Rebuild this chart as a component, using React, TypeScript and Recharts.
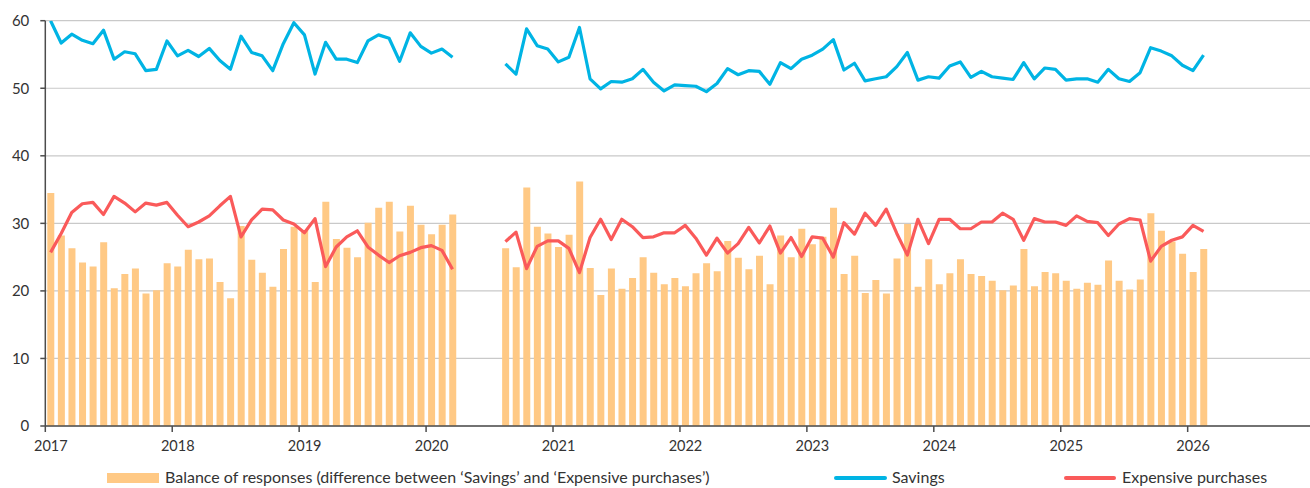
import React from "react";
import { ComposedChart, Bar, Line, XAxis, YAxis, CartesianGrid, Legend } from "recharts";

// Monthly survey months, Jan 2017 – Feb 2026 (Apr–Jul 2020 missing)
const startYear = 2017;
const monthCount = 110;

const balance: (number | null)[] = [
  // 2017
  34.5, 28.2, 26.3, 24.2, 23.6, 27.2, 20.4, 22.5, 23.3, 19.6, 20.1, 24.1,
  // 2018
  23.6, 26.1, 24.7, 24.8, 21.3, 18.9, 29.6, 24.6, 22.7, 20.6, 26.2, 29.5,
  // 2019
  29.0, 21.3, 33.2, 27.7, 26.4, 25.0, 30.1, 32.3, 33.2, 28.8, 32.6, 29.8,
  // 2020
  28.4, 29.8, 31.3, null, null, null, null, 26.3, 23.5, 35.3, 29.5, 28.5,
  // 2021
  26.5, 28.3, 36.2, 23.4, 19.4, 23.3, 20.3, 21.9, 25.0, 22.7, 21.0, 21.9,
  // 2022
  20.7, 22.6, 24.1, 22.9, 27.4, 24.9, 23.2, 25.2, 21.0, 28.2, 25.0, 29.2,
  // 2023
  26.9, 28.0, 32.3, 22.5, 25.2, 19.7, 21.6, 19.6, 24.8, 29.9, 20.6, 24.7,
  // 2024
  21.0, 22.6, 24.7, 22.5, 22.2, 21.5, 20.1, 20.8, 26.2, 20.7, 22.8, 22.6,
  // 2025
  21.5, 20.3, 21.2, 20.9, 24.5, 21.5, 20.2, 21.7, 31.5, 28.9, 27.3, 25.5,
  // 2026
  22.8, 26.2,
];

const savings: (number | null)[] = [
  60.0, 56.7, 58.0, 57.1, 56.6, 58.6, 54.3, 55.4, 55.1, 52.6, 52.8, 57.0,
  54.8, 55.6, 54.7, 55.9, 54.1, 52.8, 57.7, 55.3, 54.8, 52.6, 56.6, 59.7,
  57.9, 52.1, 56.8, 54.3, 54.3, 53.8, 57.0, 57.9, 57.4, 54.0, 58.2, 56.2,
  55.2, 55.8, 54.6, null, null, null, null, 53.6, 52.1, 58.8, 56.3, 55.8,
  53.9, 54.6, 59.0, 51.4, 49.9, 51.0, 50.9, 51.4, 52.8, 50.9, 49.6, 50.5,
  50.4, 50.3, 49.5, 50.7, 52.9, 52.0, 52.6, 52.5, 50.6, 53.8, 52.9, 54.3,
  54.9, 55.8, 57.2, 52.7, 53.7, 51.1, 51.4, 51.7, 53.2, 55.3, 51.2, 51.7,
  51.5, 53.3, 53.9, 51.6, 52.5, 51.7, 51.5, 51.3, 53.8, 51.4, 53.0, 52.8,
  51.2, 51.4, 51.4, 50.9, 52.8, 51.4, 51.0, 52.3, 56.0, 55.5, 54.8, 53.4,
  52.6, 54.9,
];

const expensive: (number | null)[] = [
  25.7, 28.5, 31.6, 32.9, 33.1, 31.3, 34.0, 33.0, 31.7, 33.0, 32.7, 33.1,
  31.2, 29.5, 30.2, 31.1, 32.6, 34.0, 28.0, 30.5, 32.1, 32.0, 30.5, 29.9,
  28.6, 30.7, 23.6, 26.5, 28.0, 28.9, 26.5, 25.3, 24.2, 25.2, 25.7, 26.4,
  26.7, 26.0, 23.2, null, null, null, null, 27.3, 28.7, 23.3, 26.6, 27.4,
  27.4, 26.3, 22.7, 27.9, 30.6, 27.6, 30.6, 29.5, 27.9, 28.0, 28.6, 28.6,
  29.7, 27.8, 25.3, 27.8, 25.6, 27.0, 29.4, 27.1, 29.6, 25.6, 27.9, 25.1,
  28.0, 27.8, 25.0, 30.1, 28.4, 31.5, 29.7, 32.1, 28.5, 25.3, 30.6, 27.0,
  30.6, 30.6, 29.2, 29.2, 30.2, 30.2, 31.5, 30.6, 27.5, 30.7, 30.2, 30.2,
  29.7, 31.1, 30.3, 30.1, 28.2, 29.9, 30.7, 30.5, 24.4, 26.6, 27.5, 28.0,
  29.7, 28.8,
];

const yearTicks = [2017, 2018, 2019, 2020, 2021, 2022, 2023, 2024, 2025, 2026];
const valueTicks = [0, 10, 20, 30, 40, 50, 60];

const seriesNames = {
  balance: "Balance of responses (difference between \u2018Savings\u2019 and \u2018Expensive purchases\u2019)",
  savings: "Savings",
  expensive: "Expensive purchases",
};

const COLORS = {
  bar: "#ffc985",
  savings: "#00b4e4",
  expensive: "#fa5a5a",
  grid: "#c9c9c9",
  axis: "#4d4d4d",
  text: "#333333",
};

const FONT = "Lato, 'Open Sans', sans-serif";

// month midpoint as fractional year
const data = Array.from({ length: monthCount }, (_, i) => ({
  t: startYear + Math.floor(i / 12) + ((i % 12) + 0.5) / 12,
  balance: balance[i],
  savings: savings[i],
  expensive: expensive[i],
}));

const XTick = (props: any) => {
  const { x, y, payload } = props;
  return (
    <text x={x + 5.5} y={y} dy="0.71em" textAnchor="middle" fill={COLORS.text} fontSize={14.5} fontFamily={FONT}>
      {payload.value}
    </text>
  );
};

const YTick = (props: any) => {
  const { x, y, payload } = props;
  return (
    <text x={x} y={y} dy="0.36em" textAnchor="end" fill={COLORS.text} fontSize={15} fontFamily={FONT}>
      {payload.value}
    </text>
  );
};

const LegendContent = () => (
  <div style={{ position: "relative", width: 1310, height: 22, fontFamily: FONT, fontSize: 16, color: COLORS.text }}>
    <div style={{ position: "absolute", left: 107, top: 7, width: 52, height: 10, background: COLORS.bar }} />
    <span style={{ position: "absolute", left: 165, top: 1, whiteSpace: "nowrap" }}>{seriesNames.balance}</span>
    <div style={{ position: "absolute", left: 834, top: 10, width: 53, height: 4, borderRadius: 2, background: COLORS.savings }} />
    <span style={{ position: "absolute", left: 892, top: 1, whiteSpace: "nowrap" }}>{seriesNames.savings}</span>
    <div style={{ position: "absolute", left: 1064, top: 10, width: 52, height: 4, borderRadius: 2, background: COLORS.expensive }} />
    <span style={{ position: "absolute", left: 1122, top: 1, whiteSpace: "nowrap" }}>{seriesNames.expensive}</span>
  </div>
);

export default function App() {
  return (
    <div style={{ position: "absolute", left: 0, top: 0, width: 1310, height: 488, overflow: "hidden", background: "#fff", fontFamily: FONT }}>
      <ComposedChart
        width={1320}
        height={488}
        data={data}
        margin={{ top: 20.7, right: 5.4, left: 0, bottom: 32 }}
      >
        <CartesianGrid horizontal vertical={false} stroke={COLORS.grid} strokeWidth={1.2} />
        <XAxis
          dataKey="t"
          type="number"
          domain={[2017, 2027]}
          ticks={yearTicks}
          tick={<XTick />}
          tickSize={6}
          tickMargin={9}
          height={30}
          axisLine={{ stroke: COLORS.axis, strokeWidth: 1.5 }}
          tickLine={{ stroke: COLORS.axis, strokeWidth: 1.5 }}
          allowDataOverflow
        />
        <YAxis
          type="number"
          domain={[0, 60]}
          ticks={valueTicks}
          width={45.3}
          tick={<YTick />}
          tickSize={5}
          tickMargin={11}
          axisLine={{ stroke: COLORS.axis, strokeWidth: 1.5 }}
          tickLine={{ stroke: COLORS.axis, strokeWidth: 1.5 }}
          allowDataOverflow
        />
        <Legend
          layout="horizontal"
          verticalAlign="middle"
          align="center"
          content={<LegendContent />}
          wrapperStyle={{ position: "absolute", left: 0, top: 466, width: 1310, height: 22 }}
        />
        <Bar dataKey="balance" name={seriesNames.balance} fill={COLORS.bar} barSize={7} isAnimationActive={false} />
        <Line
          dataKey="savings"
          name={seriesNames.savings}
          type="linear"
          stroke={COLORS.savings}
          strokeWidth={3.2}
          dot={false}
          activeDot={false}
          strokeLinejoin="round"
          isAnimationActive={false}
        />
        <Line
          dataKey="expensive"
          name={seriesNames.expensive}
          type="linear"
          stroke={COLORS.expensive}
          strokeWidth={3.2}
          dot={false}
          activeDot={false}
          strokeLinejoin="round"
          isAnimationActive={false}
        />
      </ComposedChart>
    </div>
  );
}
